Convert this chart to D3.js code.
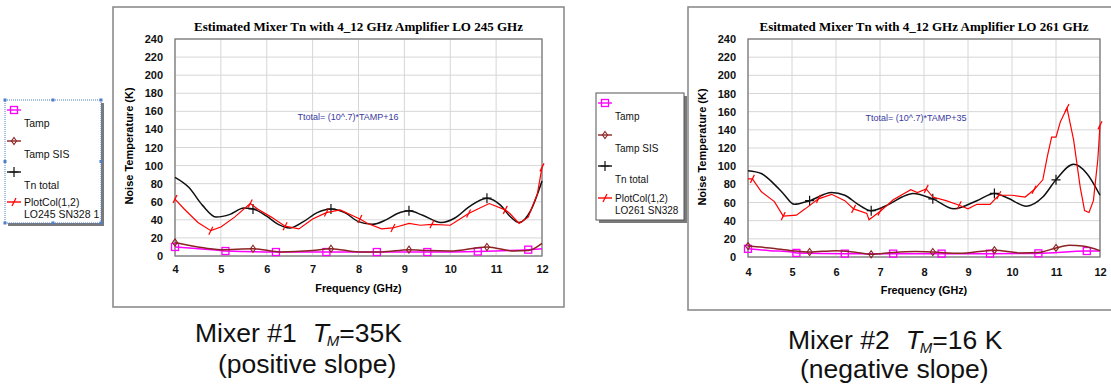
<html>
<head>
  <style>
    body { margin: 0; background: #ffffff; }
    svg { display: block; }
  </style>
  <script src="https://d3js.org/d3.v7.min.js"></script>
</head>
<body>
  <div id="chart-container"></div>
  <script>
    // axis ticks shared by both panels
    const xTicks = [4, 5, 6, 7, 8, 9, 10, 11, 12];
    const yTicks = [0, 20, 40, 60, 80, 100, 120, 140, 160, 180, 200, 220, 240];

    // ---- Mixer #1, LO 245 GHz ----
    const m1Title = "Estimated Mixer Tn with 4_12 GHz Amplifier LO 245 GHz";
    const m1Formula = "Ttotal= (10^.7)*TAMP+16";
    const m1Legend = ["Tamp", "Tamp SIS", "Tn total", "PlotCol(1,2)", "LO245 SN328 1"];
    const m1TampF = [4, 5, 5.1, 6.2, 7.3, 8.4, 9.5, 10.6, 11.7, 12];
    const m1TampV = [10, 6, 5.5, 4.4, 4.4, 4.4, 4.4, 5, 7, 8];
    const m1TampMarks = [4, 5.1, 6.2, 7.3, 8.4, 9.5, 10.6, 11.7];
    const m1SisF = [4, 4.5, 5, 5.7, 6.3, 7, 7.4, 8, 8.5, 9.1, 9.5, 10, 10.8, 11.4, 11.7, 12];
    const m1SisV = [15, 10, 7, 8, 4.5, 6, 8, 4.5, 4.5, 7, 6, 5.5, 10, 5.5, 6, 14];
    const m1SisMarks = [4, 5.7, 7.4, 9.1, 10.8];
    const m1TnF = [4, 4.3, 4.6, 4.9, 5.2, 5.5, 5.7, 6.0, 6.25, 6.5, 6.8, 7.1, 7.4, 7.7, 8.0, 8.3, 8.6, 8.85, 9.1, 9.4, 9.8, 10.1, 10.4, 10.8, 11.1, 11.3, 11.5, 11.75, 12];
    const m1TnV = [87, 76, 56, 43, 46, 53, 52, 44, 35, 31, 38, 48, 52, 48, 38, 35, 40, 47, 50, 45, 37, 42, 54, 64, 56, 44, 37, 50, 83];
    const m1TnMarks = [5.7, 7.4, 9.1, 10.8];
    const m1MeasF = [4, 4.2, 4.5, 4.78, 5.0, 5.3, 5.64, 5.8, 6.1, 6.4, 6.7, 7.0, 7.3, 7.6, 8.03, 8.2, 8.5, 8.75, 9.1, 9.35, 9.6, 10.0, 10.4, 10.6, 10.85, 11.2, 11.3, 11.5, 11.7, 11.9, 12];
    const m1MeasV = [63, 52, 37, 28, 32, 43, 58, 52, 43, 33, 30, 41, 48, 51, 41, 36, 30, 31, 36, 34, 35, 34, 47, 52, 58, 51, 47, 36, 43, 69, 98];
    const m1MeasMarks = [4, 4.78, 5.64, 6.4, 7.3, 8.03, 8.75, 9.6, 10.4, 11.2, 12];

    // ---- Mixer #2, LO 261 GHz ----
    const m2Title = "Esitmated Mixer Tn with 4_12 GHz Amplifier LO 261 GHz";
    const m2Formula = "Ttotal= (10^.7)*TAMP+35";
    const m2Legend = ["Tamp", "Tamp SIS", "Tn total", "PlotCol(1,2)", "LO261 SN328"];
    const m2TampF = [4, 4.5, 5, 5.1, 6.2, 7.3, 8.4, 9.5, 10.6, 11.7, 12];
    const m2TampV = [9, 7, 5.5, 4.5, 3.7, 3.7, 3.7, 3.7, 4, 6.6, 6.6];
    const m2TampMarks = [4, 5.1, 6.2, 7.3, 8.4, 9.5, 10.6, 11.7];
    const m2SisF = [4, 4.5, 5, 5.4, 6, 6.4, 6.8, 7.3, 7.8, 8.2, 8.8, 9.6, 10.2, 10.6, 11, 11.3, 11.6, 12];
    const m2SisV = [12, 10, 7, 5.5, 7, 5.5, 3, 5, 6, 5.5, 4, 7.5, 4.5, 5, 10, 13, 12, 7];
    const m2SisMarks = [4, 5.4, 6.8, 8.2, 9.6, 11];
    const m2TnF = [4, 4.3, 4.6, 4.8, 5.05, 5.4, 5.9, 6.2, 6.5, 6.8, 7.2, 7.5, 7.75, 8.2, 8.68, 9.2, 9.6, 9.9, 10.33, 10.7, 11, 11.4, 11.7, 12];
    const m2TnV = [95, 92, 80, 70, 58, 62, 71, 68, 58, 51, 58, 66, 70, 64, 53, 62, 70, 65, 56, 66, 85, 102, 92, 68];
    const m2TnMarks = [5.4, 6.8, 8.2, 9.6, 11];
    const m2MeasF = [4, 4.1, 4.3, 4.6, 4.8, 5.1, 5.3, 5.6, 5.9, 6.2, 6.4, 6.7, 6.75, 7.0, 7.3, 7.7, 7.85, 8.05, 8.2, 8.5, 8.8, 9.0, 9.2, 9.5, 9.7, 10.0, 10.3, 10.5, 10.7, 10.8, 10.9, 11.0, 11.1, 11.25, 11.4, 11.55, 11.65, 11.75, 11.85, 11.95, 12];
    const m2MeasV = [86, 86, 72, 61, 45, 46, 53, 64, 69, 62, 53, 48, 41, 50, 63, 74, 71, 75, 66, 62, 57, 53, 58, 58, 68, 68, 66, 74, 85, 110, 132, 132, 149, 164, 129, 77, 51, 49, 62, 107, 145];
    const m2MeasMarks = [4.1, 4.8, 5.6, 6.4, 7.0, 8.05, 8.8, 9.7, 10.5, 11.25, 12];

    const colors = { tamp: "#ff00ff", sis: "#8b2323", tn: "#111111", meas: "#ff0000" };

    function series(f, v, marks, key, curve) {
      return { key, curve, marks, pts: f.map((x, i) => ({ f: x, v: v[i] })) };
    }

    const panels = [
      {
        frame: { x: 113, y: 7, w: 451, h: 300 },
        px: [175, 542], py: [256, 39],
        title: m1Title, formula: m1Formula, legendText: m1Legend,
        labelY: 292, tickY: 9, yLabelY: 146,
        legend: { x: 5, y: 100, w: 96, h: 123, dotted: true, font: 10.5, rowY: [110, 141, 172, 202] },
        series: [
          series(m1TampF, m1TampV, m1TampMarks, "tamp", d3.curveMonotoneX),
          series(m1SisF, m1SisV, m1SisMarks, "sis", d3.curveMonotoneX),
          series(m1TnF, m1TnV, m1TnMarks, "tn", d3.curveMonotoneX),
          series(m1MeasF, m1MeasV, m1MeasMarks, "meas", d3.curveLinear)
        ]
      },
      {
        frame: { x: 688, y: 7, w: 440, h: 303 },
        px: [748, 1100], py: [257, 39],
        title: m2Title, formula: m2Formula, legendText: m2Legend,
        labelY: 294, tickY: 11, yLabelY: 147,
        legend: { x: 596, y: 93, w: 88, h: 127, dotted: false, font: 10, rowY: [103, 135, 166, 198] },
        series: [
          series(m2TampF, m2TampV, m2TampMarks, "tamp", d3.curveMonotoneX),
          series(m2SisF, m2SisV, m2SisMarks, "sis", d3.curveMonotoneX),
          series(m2TnF, m2TnV, m2TnMarks, "tn", d3.curveMonotoneX),
          series(m2MeasF, m2MeasV, m2MeasMarks, "meas", d3.curveLinear)
        ]
      }
    ];

    const svg = d3.select("#chart-container")
      .append("svg")
      .attr("width", 1111)
      .attr("height", 388)
      .style("font-family", "'Liberation Sans', Arial, sans-serif");

    // draw a marker symbol of a series at (x, y)
    function drawMarker(g, key, x, y) {
      if (key === "tamp") {
        g.append("rect").attr("x", x - 3.5).attr("y", y - 3.5).attr("width", 7).attr("height", 7)
          .attr("fill", "none").attr("stroke", colors.tamp).attr("stroke-width", 1.3);
      } else if (key === "sis") {
        g.append("path").attr("d", `M${x},${y - 3.5}L${x + 2.5},${y}L${x},${y + 3.5}L${x - 2.5},${y}Z`)
          .attr("fill", "none").attr("stroke", colors.sis).attr("stroke-width", 1.1);
      } else if (key === "tn") {
        g.append("path").attr("d", `M${x - 4.5},${y}H${x + 4.5}M${x},${y - 5}V${y + 5}`)
          .attr("stroke", colors.tn).attr("stroke-width", 1.2);
      } else {
        g.append("path").attr("d", `M${x - 2},${y + 4}L${x + 2},${y - 4}`)
          .attr("stroke", colors.meas).attr("stroke-width", 1.2);
      }
    }

    panels.forEach(p => {
      const x = d3.scaleLinear().domain([4, 12]).range(p.px);
      const y = d3.scaleLinear().domain([0, 240]).range(p.py);
      const g = svg.append("g");

      // outer frame
      g.append("rect")
        .attr("x", p.frame.x).attr("y", p.frame.y)
        .attr("width", p.frame.w).attr("height", p.frame.h)
        .attr("fill", "#fff").attr("stroke", "#8c8c8c").attr("stroke-width", 1.6);

      // title
      g.append("text")
        .attr("x", (p.px[0] + p.px[1]) / 2).attr("y", 31)
        .attr("text-anchor", "middle")
        .style("font-family", "'Liberation Serif', 'Times New Roman', serif")
        .style("font-weight", "bold").style("font-size", "13px")
        .text(p.title);

      // grid
      g.append("g").selectAll("line").data(xTicks).join("line")
        .attr("x1", d => x(d)).attr("x2", d => x(d))
        .attr("y1", p.py[0]).attr("y2", p.py[1])
        .attr("stroke", "#d6d6d6").attr("stroke-width", 1);
      g.append("g").selectAll("line").data(yTicks).join("line")
        .attr("x1", p.px[0]).attr("x2", p.px[1])
        .attr("y1", d => y(d)).attr("y2", d => y(d))
        .attr("stroke", "#d6d6d6").attr("stroke-width", 1);

      // axes (labels only, no tick lines)
      const ax = g.append("g")
        .attr("transform", `translate(0,${p.py[0] + p.tickY})`)
        .call(d3.axisBottom(x).tickValues(xTicks).tickSize(0).tickPadding(0));
      const ay = g.append("g")
        .attr("transform", `translate(${p.px[0] - 12},0)`)
        .call(d3.axisLeft(y).tickValues(yTicks).tickSize(0).tickPadding(0));
      [ax, ay].forEach(a => {
        a.select(".domain").remove();
        a.selectAll("text")
          .style("font-family", "'Liberation Sans', Arial, sans-serif")
          .style("font-weight", "bold").style("font-size", "11px").attr("fill", "#111");
      });

      // plot border
      g.append("rect")
        .attr("x", p.px[0]).attr("y", p.py[1])
        .attr("width", p.px[1] - p.px[0]).attr("height", p.py[0] - p.py[1])
        .attr("fill", "none").attr("stroke", "#7a7a7a").attr("stroke-width", 1.3);

      // axis titles
      g.append("text")
        .attr("x", (p.px[0] + p.px[1]) / 2).attr("y", p.labelY)
        .attr("text-anchor", "middle")
        .style("font-weight", "bold").style("font-size", "10.8px")
        .text("Frequency (GHz)");
      g.append("text")
        .attr("transform", `translate(${p.px[0] - 42},${p.yLabelY}) rotate(-90)`)
        .attr("text-anchor", "middle")
        .style("font-weight", "bold").style("font-size", "11px")
        .text("Noise Temperature (K)");

      // formula note
      g.append("text")
        .attr("x", x(6.67)).attr("y", y(150))
        .style("font-size", "9px").attr("fill", "#3a3aa0")
        .text(p.formula);

      // curves
      const plot = g.append("g");
      p.series.forEach(s => {
        const line = d3.line().x(d => x(d.f)).y(d => y(d.v)).curve(s.curve);
        plot.append("path")
          .attr("d", line(s.pts))
          .attr("fill", "none")
          .attr("stroke", colors[s.key])
          .attr("stroke-width", s.key === "meas" ? 1.2 : 1.5);
        s.marks.forEach(m => {
          const pt = s.pts.find(d => d.f === m);
          drawMarker(plot, s.key, x(pt.f), y(pt.v));
        });
      });

      // legend box
      const L = p.legend;
      g.append("rect")
        .attr("x", L.x + 3).attr("y", L.y + 3).attr("width", L.w).attr("height", L.h)
        .attr("fill", "#7a7a7a");
      g.append("rect")
        .attr("x", L.x).attr("y", L.y).attr("width", L.w).attr("height", L.h)
        .attr("fill", "#fff")
        .attr("stroke", L.dotted ? "#4f7fc7" : "#555")
        .attr("stroke-width", 1)
        .attr("stroke-dasharray", L.dotted ? "1,1" : null);
      if (L.dotted) {
        const hx = [L.x, L.x + L.w / 2, L.x + L.w];
        const hy = [L.y, L.y + L.h / 2, L.y + L.h];
        hx.forEach((a, i) => hy.forEach((b, j) => {
          if (i === 1 && j === 1) return;
          g.append("rect").attr("x", a - 1.5).attr("y", b - 1.5).attr("width", 3).attr("height", 3)
            .attr("fill", "#4f7fc7");
        }));
      }
      const keys = ["tamp", "sis", "tn", "meas"];
      keys.forEach((k, i) => {
        const ry = L.rowY[i];
        g.append("line")
          .attr("x1", L.x + 2).attr("x2", L.x + 16).attr("y1", ry).attr("y2", ry)
          .attr("stroke", colors[k]).attr("stroke-width", 1.4);
        drawMarker(g, k, L.x + 9, ry);
        const t = g.append("text").style("font-size", L.font + "px").attr("fill", "#111");
        if (k === "meas") {
          t.attr("x", L.x + 19).attr("y", ry + 4).text(p.legendText[3]);
          g.append("text").style("font-size", L.font + "px").attr("fill", "#111")
            .attr("x", L.x + 19).attr("y", ry + 16).text(p.legendText[4]);
        } else {
          t.attr("x", L.x + 19).attr("y", ry + 17).text(p.legendText[i]);
        }
      });
    });

    // captions under the panels
    function caption(x0, y1, x2, y2, num, tm, slope) {
      const t = svg.append("text")
        .attr("x", x0).attr("y", y1)
        .style("font-size", "26.5px").attr("fill", "#111");
      t.append("tspan").text(`Mixer #${num}`);
      t.append("tspan").attr("dx", 16).style("font-style", "italic").text("T");
      t.append("tspan").style("font-style", "italic").style("font-size", "15px").attr("dx", -2).attr("dy", 3.5).text("M");
      t.append("tspan").attr("dy", -3.5).text(tm);
      svg.append("text")
        .attr("x", x2).attr("y", y2)
        .style("font-size", "26.5px").attr("fill", "#111")
        .text(slope);
    }
    caption(195, 342, 218, 373, 1, "=35K", "(positive slope)");
    caption(788, 349, 800, 378, 2, "=16 K", "(negative slope)");
  </script>
</body>
</html>
